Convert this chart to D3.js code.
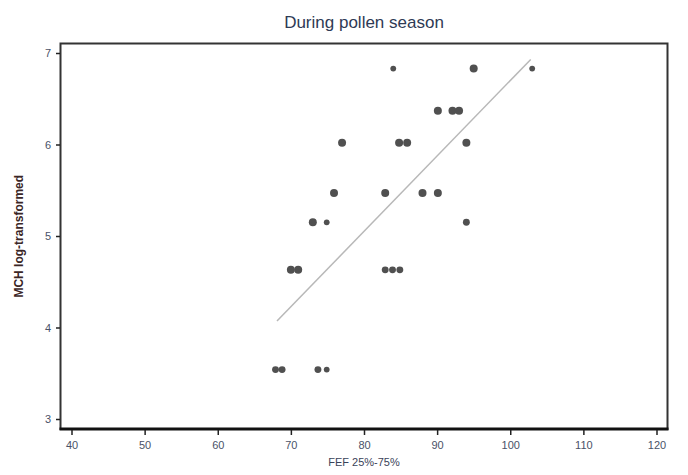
<!DOCTYPE html>
<html>
<head>
<meta charset="utf-8">
<script src="https://cdn.jsdelivr.net/npm/d3@7"></script>
<style>
  html, body { margin: 0; padding: 0; background: #fff; }
  svg { display: block; }
</style>
</head>
<body>
<script>
// Data
const fefValues = [84.0, 95.0, 103.0,
                   90.1, 92.1, 93.0,
                   77.0, 84.8, 85.9, 94.0,
                   75.9, 82.9, 88.0, 90.1,
                   73.0, 74.9, 94.0,
                   70.0, 71.0, 82.9, 83.9, 84.9,
                   67.9, 68.8, 73.7, 74.9];
const mchValues = [6.83, 6.83, 6.83,
                   6.37, 6.37, 6.37,
                   6.02, 6.02, 6.02, 6.02,
                   5.47, 5.47, 5.47, 5.47,
                   5.15, 5.15, 5.15,
                   4.63, 4.63, 4.63, 4.63, 4.63,
                   3.54, 3.54, 3.54, 3.54];
const pointWeights = [1, 2, 1,
                      2, 2, 2,
                      2, 2, 2, 2,
                      2, 2, 2, 2,
                      2, 1, 1.5,
                      2, 2, 1.5, 1.5, 1.5,
                      1.5, 1.5, 1.5, 1];
const fitX = [68.1, 102.8];
const fitY = [4.07, 6.93];
const xTicks = [40, 50, 60, 70, 80, 90, 100, 110, 120];
const yTicks = [3, 4, 5, 6, 7];
const titleText = "During pollen season";
const xLabel = "FEF 25%-75%";
const yLabel = "MCH log-transformed";

const W = 688, H = 475;
const svg = d3.select("body").append("svg").attr("width", W).attr("height", H);

const x = d3.scaleLinear().domain([40, 120]).range([71.5, 656.5]);
const y = d3.scaleLinear().domain([3, 7]).range([419, 53]);

const frame = { left: 60.5, right: 667.5, top: 43.5, bottom: 429 };

// Title
svg.append("text")
  .attr("x", 364).attr("y", 28)
  .attr("text-anchor", "middle")
  .attr("font-family", "Arial, 'Liberation Sans', sans-serif")
  .attr("font-size", 17)
  .attr("fill", "#2e3a55")
  .text(titleText);

// Plot frame
svg.append("rect")
  .attr("x", frame.left).attr("y", frame.top)
  .attr("width", frame.right - frame.left).attr("height", frame.bottom - frame.top)
  .attr("fill", "#fff").attr("stroke", "#333").attr("stroke-width", 2);
// Heavier bottom edge
svg.append("line")
  .attr("x1", frame.left - 1).attr("x2", frame.right + 1)
  .attr("y1", frame.bottom).attr("y2", frame.bottom)
  .attr("stroke", "#111").attr("stroke-width", 3);

// X axis
const xAxis = d3.axisBottom(x).tickValues(xTicks).tickSize(5).tickPadding(6).tickFormat(d3.format("d"));
const gx = svg.append("g").attr("transform", `translate(0,${frame.bottom + 1})`).call(xAxis);
gx.select(".domain").remove();
gx.selectAll(".tick line").attr("stroke", "#222").attr("stroke-width", 1.5);
gx.selectAll(".tick text")
  .attr("font-family", "Arial, 'Liberation Sans', sans-serif")
  .attr("font-size", 11).attr("fill", "#4a5268");

// Y axis
const yAxis = d3.axisLeft(y).tickValues(yTicks).tickSize(4).tickPadding(5).tickFormat(d3.format("d"));
const gy = svg.append("g").attr("transform", `translate(${frame.left - 0.5},0)`).call(yAxis);
gy.select(".domain").remove();
gy.selectAll(".tick line").attr("stroke", "#222").attr("stroke-width", 1.5);
gy.selectAll(".tick text")
  .attr("font-family", "Arial, 'Liberation Sans', sans-serif")
  .attr("font-size", 11).attr("fill", "#4a5268");

// Axis titles
svg.append("text")
  .attr("x", 364).attr("y", 466)
  .attr("text-anchor", "middle")
  .attr("font-family", "Arial, 'Liberation Sans', sans-serif")
  .attr("font-size", 11).attr("fill", "#3a4258")
  .text(xLabel);

svg.append("text")
  .attr("transform", `translate(23,${(frame.top + frame.bottom) / 2}) rotate(-90)`)
  .attr("text-anchor", "middle")
  .attr("font-family", "Arial, 'Liberation Sans', sans-serif")
  .attr("font-size", 12).attr("font-weight", "bold").attr("fill", "#3a2626")
  .text(yLabel);

// Regression line
svg.append("line")
  .attr("x1", x(fitX[0])).attr("y1", y(fitY[0]))
  .attr("x2", x(fitX[1])).attr("y2", y(fitY[1]))
  .attr("stroke", "#b8b8b8").attr("stroke-width", 1.5);

// Points
const pts = fefValues.map((v, i) => ({ fx: v, my: mchValues[i], w: pointWeights[i] }));
svg.append("g").selectAll("circle").data(pts).join("circle")
  .attr("cx", d => x(d.fx)).attr("cy", d => y(d.my))
  .attr("r", d => 1.8 + d.w * 1.1)
  .attr("fill", "#505050");
</script>
</body>
</html>
